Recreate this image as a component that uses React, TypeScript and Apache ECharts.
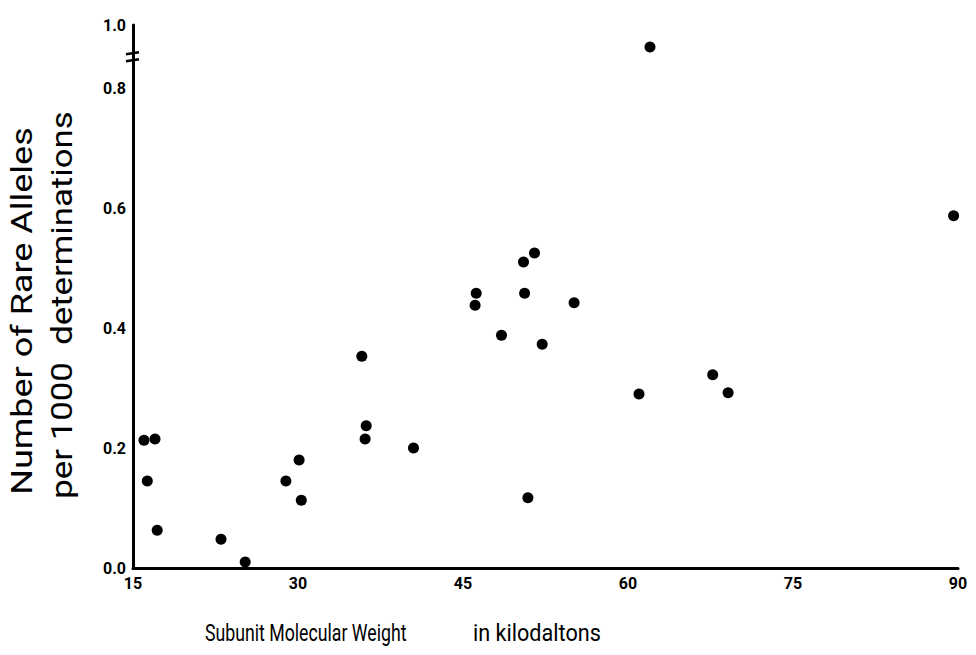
import React, { useEffect, useRef } from "react";
import * as echarts from "echarts";

const molecularWeight = [16.0, 17.0, 16.3, 17.2, 23.0, 25.2, 28.9, 30.1, 30.3, 35.8, 36.2, 36.1, 40.5, 46.2, 46.1, 48.5, 50.5, 50.6, 51.5, 52.2, 50.9, 55.1, 61.0, 62.0, 67.7, 69.1, 89.6];
const rareAlleles = [0.213, 0.215, 0.145, 0.063, 0.048, 0.01, 0.145, 0.18, 0.113, 0.353, 0.237, 0.215, 0.2, 0.458, 0.438, 0.388, 0.51, 0.458, 0.525, 0.373, 0.117, 0.442, 0.29, 0.93, 0.322, 0.292, 0.587];
const xTicks = [15, 30, 45, 60, 75, 90];
const yTickLabels = ["0.0", "0.2", "0.4", "0.6", "0.8", "1.0"];

// Broken axis: values above 0.8 are compressed into the band 0.8 .. 0.905 (display units)
const BREAK_AT = 0.8;
const DISPLAY_TOP = 0.905;
const REAL_TOP = 1.0;
const k = (DISPLAY_TOP - BREAK_AT) / (REAL_TOP - BREAK_AT);
const toDisplay = (v: number) => (v <= BREAK_AT ? v : BREAK_AT + (v - BREAK_AT) * k);

const tickFont = "Roboto, sans-serif";
const titleFont = "Roboto, sans-serif";

export default function App() {
  const ref = useRef<HTMLDivElement>(null);
  useEffect(() => {
    if (!ref.current) return;
    const chart = echarts.init(ref.current, undefined, { renderer: "svg" });
    const points = molecularWeight.map((x, i) => [x, toDisplay(rareAlleles[i])]);
    chart.setOption({
      animation: false,
      backgroundColor: "#fff",
      grid: { left: 133, right: 18, top: 25, bottom: 87 },
      xAxis: {
        type: "value",
        min: xTicks[0],
        max: xTicks[xTicks.length - 1],
        interval: 15,
        splitLine: { show: false },
        axisTick: { show: false },
        axisLine: { lineStyle: { color: "#000", width: 3 } },
        axisLabel: {
          color: "#000",
          fontFamily: tickFont,
          fontSize: 16,
          fontWeight: "bold",
          margin: 7,
          formatter: (v: number) => (xTicks.includes(v) ? String(v) : ""),
        },
      },
      yAxis: {
        type: "value",
        min: 0,
        max: DISPLAY_TOP,
        interval: 0.2,
        splitLine: { show: false },
        axisTick: { show: false },
        axisLine: { show: true, lineStyle: { color: "#000", width: 3 } },
        axisLabel: {
          color: "#000",
          fontFamily: tickFont,
          fontSize: 16,
          fontWeight: "bold",
          margin: 7,
          showMaxLabel: true,
          formatter: (v: number) => {
            if (v > 0.85) return yTickLabels[5];
            const idx = Math.round(v / 0.2);
            return yTickLabels[idx] ?? "";
          },
        },
      },
      graphic: [
        {
          type: "text",
          x: 205,
          y: 633,
          scaleX: 0.77,
          style: {
            text: "Subunit Molecular Weight",
            fontFamily: titleFont,
            fontSize: 23,
            fill: "#000",
            align: "left",
            verticalAlign: "middle",
          },
        },
        {
          type: "text",
          x: 473,
          y: 633,
          scaleX: 0.94,
          style: {
            text: "in kilodaltons",
            fontFamily: titleFont,
            fontSize: 23,
            fill: "#000",
            align: "left",
            verticalAlign: "middle",
          },
        },
        {
          type: "text",
          x: 22,
          y: 311,
          rotation: Math.PI / 2,
          scaleX: 1.2,
          style: {
            text: "Number of Rare Alleles",
            fontFamily: titleFont,
            fontSize: 30,
            fill: "#000",
            align: "center",
            verticalAlign: "middle",
          },
        },
        {
          type: "text",
          x: 62,
          y: 305,
          rotation: Math.PI / 2,
          scaleX: 1.16,
          style: {
            text: "per 1000  determinations",
            fontFamily: titleFont,
            fontSize: 30,
            fill: "#000",
            align: "center",
            verticalAlign: "middle",
          },
        },
      ],
      series: [
        {
          type: "scatter",
          data: points,
          symbol: "circle",
          symbolSize: 11,
          itemStyle: { color: "#000", opacity: 1 },
        },
        {
          type: "custom",
          clip: false,
          silent: true,
          data: [[xTicks[0], 0.853]],
          renderItem: (params: any, api: any) => {
            const c = api.coord([api.value(0), api.value(1)]);
            return {
              type: "group",
              children: [
                {
                  type: "line",
                  shape: { x1: c[0] - 7, y1: c[1] - 2, x2: c[0] + 6, y2: c[1] - 4 },
                  style: { stroke: "#000", lineWidth: 2.5 },
                },
                {
                  type: "line",
                  shape: { x1: c[0] - 7, y1: c[1] + 5, x2: c[0] + 6, y2: c[1] + 3 },
                  style: { stroke: "#000", lineWidth: 2.5 },
                },
              ],
            };
          },
        },
      ],
    });
    return () => chart.dispose();
  }, []);
  return (
    <div
      ref={ref}
      style={{ position: "absolute", left: 0, top: 0, width: 976, height: 655 }}
    />
  );
}
